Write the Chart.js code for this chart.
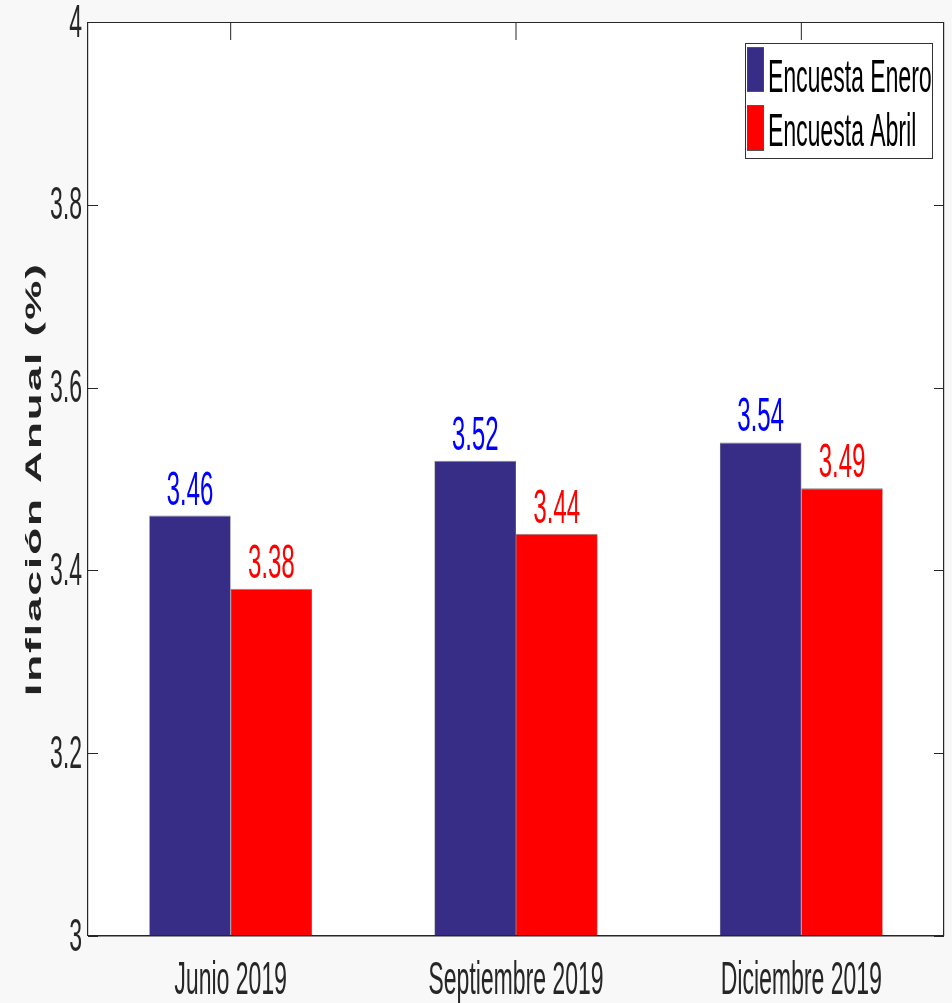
<!DOCTYPE html>
<html lang="es">
<head>
<meta charset="UTF-8">
<title>Inflación anual</title>
<script src="https://cdn.jsdelivr.net/npm/chart.js@4"></script>
<style>
  html, body { margin: 0; padding: 0; background: #f8f8f8; overflow: hidden; }
  /* the original figure is stretched vertically, so draw wide and squeeze */
  #grafico { display: block; transform: scaleX(0.5); transform-origin: 0 0; }
</style>
</head>
<body>
<canvas id="grafico" width="1904" height="1003"></canvas>

<script>
const categorias = ['Junio 2019', 'Septiembre 2019', 'Diciembre 2019'];
const series = ['Encuesta Enero', 'Encuesta Abril'];
const encuestaEnero = [3.46, 3.52, 3.54];
const encuestaAbril = [3.38, 3.44, 3.49];
const ticksY = [3, 3.2, 3.4, 3.6, 3.8, 4];

const ESC = 2;            // logical px per screen px in x
const FUENTE = "'Liberation Sans', Arial, sans-serif";
const GRIS = '#262626';
const colores = ['#372c86', '#ff0000'];
const coloresTexto = ['#0000ff', '#ff0000'];

const fondo = {
    id: 'fondo',
    beforeDraw(chart) {
        const a = chart.chartArea, ctx = chart.ctx;
        ctx.save();
        ctx.fillStyle = '#ffffff';
        ctx.fillRect(a.left, a.top, a.right - a.left, a.bottom - a.top);
        ctx.restore();
    }
};

const extras = {
    id: 'extras',
    afterDatasetsDraw(chart) {
        const a = chart.chartArea, ctx = chart.ctx;
        const y = chart.scales.y, x = chart.scales.x;
        ctx.save();

        // valores sobre las barras
        ctx.textAlign = 'center';
        ctx.textBaseline = 'alphabetic';
        ctx.font = '48px ' + FUENTE;
        chart.data.datasets.forEach((ds, i) => {
            const meta = chart.getDatasetMeta(i);
            ctx.fillStyle = coloresTexto[i];
            meta.data.forEach((bar, j) => {
                ctx.fillText(ds.data[j].toFixed(2), bar.x, bar.y - 11);
            });
        });

        // marco y marcas hacia dentro
        ctx.fillStyle = GRIS;
        ctx.fillRect(a.left, a.top, a.right - a.left, 1);
        ctx.fillRect(a.left, a.bottom - 1, a.right - a.left, 1.5);
        ctx.fillRect(a.left - ESC, a.top, ESC * 1.2, a.bottom - a.top);
        ctx.fillRect(a.right - ESC, a.top, ESC * 1.2, a.bottom - a.top);
        ticksY.forEach(v => {
            const py = Math.round(y.getPixelForValue(v));
            ctx.fillRect(a.left, py, 10 * ESC, 1);
            ctx.fillRect(a.right - 10 * ESC, py, 10 * ESC, 1);
        });
        categorias.forEach((c, i) => {
            const px = x.getPixelForValue(i);
            ctx.fillRect(px - ESC / 2, a.top, ESC, 18);
        });

        // leyenda
        const lx = 745 * ESC, lr = 932 * ESC, lt = 43, lb = 158;
        ctx.fillStyle = '#ffffff';
        ctx.fillRect(lx, lt, lr - lx, lb - lt);
        ctx.fillStyle = '#333333';
        ctx.fillRect(lx, lt, lr - lx, 1);
        ctx.fillRect(lx, lb, lr - lx, 1);
        ctx.fillRect(lx, lt, ESC, lb - lt);
        ctx.fillRect(lr, lt, ESC, lb - lt + 1);
        const filas = [[47, 92], [105, 151]];
        ctx.font = '46px ' + FUENTE;
        ctx.textAlign = 'left';
        ctx.textBaseline = 'alphabetic';
        series.forEach((s, i) => {
            const [t, b] = filas[i];
            ctx.fillStyle = '#555555';
            ctx.fillRect(747 * ESC, t, 17 * ESC, b - t);
            ctx.fillStyle = colores[i];
            ctx.fillRect(747 * ESC + 1, t + 1, 17 * ESC - 2, b - t - 2);
            ctx.fillStyle = '#000000';
            ctx.fillText(s, 768 * ESC, b + (i === 0 ? 0 : -5));
        });

        // título del eje y
        ctx.translate(35 * ESC, (a.top + a.bottom) / 2);
        ctx.rotate(-Math.PI / 2);
        ctx.font = 'bold 44px ' + FUENTE;
        ctx.letterSpacing = '2px';
        ctx.textAlign = 'center';
        ctx.textBaseline = 'middle';
        ctx.fillStyle = '#222222';
        ctx.fillText('Inflación Anual (%)', 0, 0);
        ctx.restore();
    }
};

new Chart(document.getElementById('grafico'), {
    type: 'bar',
    data: {
        labels: categorias,
        datasets: [{
            label: series[0],
            data: encuestaEnero,
            backgroundColor: colores[0],
            borderColor: 'rgba(110,110,130,0.9)',
            borderWidth: 1
        }, {
            label: series[1],
            data: encuestaAbril,
            backgroundColor: colores[1],
            borderColor: 'rgba(120,120,120,0.9)',
            borderWidth: 1
        }]
    },
    options: {
        responsive: false,
        animation: false,
        layout: { padding: { top: 22, right: 16, left: 0, bottom: 0 } },
        plugins: {
            legend: { display: false },
            tooltip: { enabled: false }
        },
        datasets: {
            bar: { categoryPercentage: 0.571, barPercentage: 1 }
        },
        scales: {
            x: {
                grid: { display: false, drawTicks: false },
                border: { display: false },
                ticks: {
                    color: GRIS,
                    font: { family: FUENTE, size: 46 },
                    padding: 18,
                    maxRotation: 0
                },
                afterFit: s => { s.height = 67; s.paddingLeft = 0; s.paddingRight = 0; }
            },
            y: {
                min: 3,
                max: 4,
                grid: { display: false, drawTicks: false },
                border: { display: false },
                afterBuildTicks: s => { s.ticks = ticksY.map(v => ({ value: v })); },
                ticks: {
                    color: GRIS,
                    font: { family: FUENTE, size: 46 },
                    padding: 12,
                    labelOffset: 2,
                    callback: v => String(+v.toFixed(1))
                },
                afterFit: s => { s.width = 88 * ESC; s.paddingTop = 0; s.paddingBottom = 0; }
            }
        }
    },
    plugins: [fondo, extras]
});
</script>
</body>
</html>
